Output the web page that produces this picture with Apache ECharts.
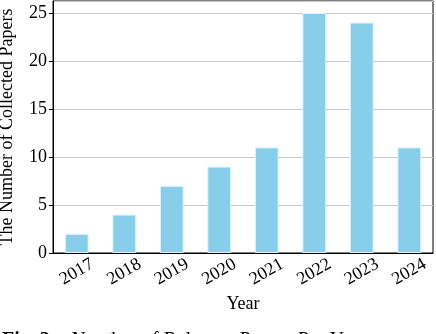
<!DOCTYPE html>
<html>
<head>
<meta charset="utf-8">
<script src="https://cdn.jsdelivr.net/npm/echarts@6/dist/echarts.min.js"></script>
<style>
  html, body { margin: 0; padding: 0; background: #fff; }
  #chart { width: 436px; height: 334px; }
</style>
</head>
<body>
<div id="chart"></div>
<script>
const years = ['2017', '2018', '2019', '2020', '2021', '2022', '2023', '2024'];
const papers = [2, 4, 7, 9, 11, 25, 24, 11];
const yTicks = [0, 5, 10, 15, 20, 25];

const font = '"Liberation Serif", "DejaVu Serif", serif';

echarts.init(document.getElementById('chart')).setOption({
  animation: false,
  textStyle: { fontFamily: font },
  grid: {
    left: 53, right: 3, top: 1, bottom: 81,
    outerBoundsMode: 'none',
    containLabel: false,
    show: true, borderColor: '#000', borderWidth: 1
  },
  xAxis: {
    type: 'category',
    data: years,
    name: 'Year',
    nameLocation: 'middle',
    nameGap: 41,
    nameTextStyle: { fontFamily: font, fontSize: 18, color: '#000' },
    axisLine: { lineStyle: { color: '#000' } },
    axisTick: { alignWithLabel: true, length: 4, lineStyle: { color: '#000' } },
    axisLabel: {
      rotate: 30, align: 'center', verticalAlign: 'middle', margin: 19,
      fontFamily: font, fontSize: 18, color: '#000'
    }
  },
  yAxis: {
    type: 'value',
    min: yTicks[0],
    max: 26.25,
    interval: 5,
    name: 'The Number of Collected Papers',
    nameLocation: 'middle',
    nameGap: 37,
    nameTextStyle: { fontFamily: font, fontSize: 18, color: '#000' },
    axisLine: { show: true, lineStyle: { color: '#000' } },
    axisTick: { show: true, length: 4, lineStyle: { color: '#000' } },
    axisLabel: {
      showMaxLabel: false, margin: 6,
      fontFamily: font, fontSize: 18, color: '#000'
    },
    splitLine: { lineStyle: { color: '#c8c8c8', width: 1 } }
  },
  series: [{
    type: 'bar',
    data: papers,
    barWidth: '50%',
    itemStyle: { color: '#87ceeb', borderColor: '#dff3fb', borderWidth: 1 }
  }],
  graphic: [{
    type: 'text',
    x: 2,
    y: 331,
    style: {
      text: '{b|Fig. 3:}   Number of Relevant Papers Per Year',
      verticalAlign: 'top',
      fontFamily: font, fontSize: 20, fill: '#000',
      rich: { b: { fontFamily: font, fontSize: 20, fontWeight: 'bold' } }
    }
  }]
});
</script>
</body>
</html>
